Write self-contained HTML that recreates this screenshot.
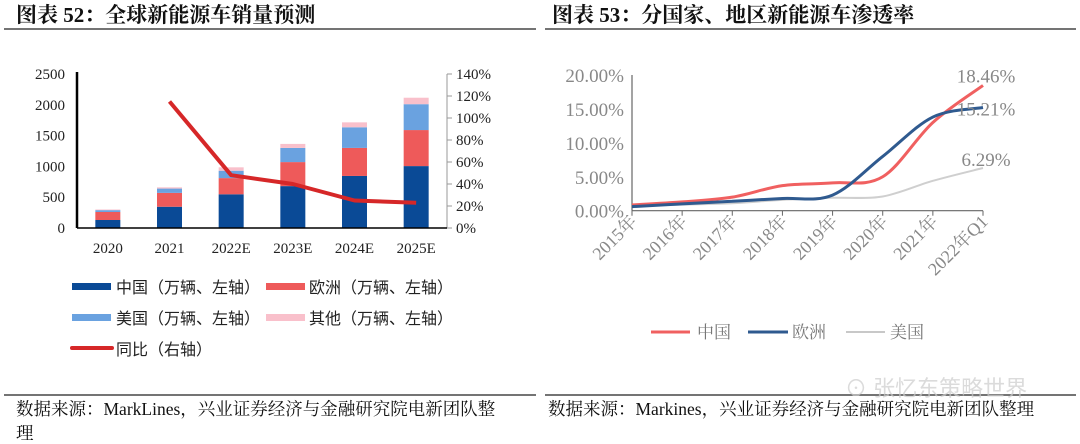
<!DOCTYPE html>
<html><head><meta charset="utf-8">
<style>
body{margin:0;background:#fff;}
svg{display:block;}
.t{font-family:"Liberation Serif","Noto Serif CJK SC",serif;}
.s{font-family:"Liberation Sans","Noto Sans CJK SC",sans-serif;}
</style></head><body>
<svg id="root" width="1080" height="444" viewBox="0 0 1080 444">
 <g>
  <text class="t" x="16" y="22" font-size="21" font-weight="bold" fill="#111">图表 52：全球新能源车销量预测</text>
  <line x1="4" y1="29" x2="536" y2="29" stroke="#222" stroke-width="1.2"/>
  <g id="leftChart"></g>
  <g>
   <rect x="72" y="283" width="39" height="7" fill="#0a4a96"/>
   <text class="s" x="116" y="293" font-size="16" fill="#222">中国（万辆、左轴）</text>
   <rect x="266" y="283" width="39" height="7" fill="#ee5a5a"/>
   <text class="s" x="309" y="293" font-size="16" fill="#222">欧洲（万辆、左轴）</text>
   <rect x="72" y="314" width="39" height="7" fill="#6aa2e0"/>
   <text class="s" x="116" y="324" font-size="16" fill="#222">美国（万辆、左轴）</text>
   <rect x="266" y="314" width="39" height="7" fill="#f9c0cb"/>
   <text class="s" x="309" y="324" font-size="16" fill="#222">其他（万辆、左轴）</text>
   <line x1="72" y1="348" x2="112" y2="348" stroke="#d62728" stroke-width="4" stroke-linecap="round"/>
   <text class="s" x="116" y="355" font-size="16" fill="#222">同比（右轴）</text>
  </g>
  <line x1="4" y1="395" x2="536" y2="395" stroke="#222" stroke-width="1.2"/>
  <text class="t" x="16" y="415" font-size="17.5" fill="#111">数据来源：MarkLines，兴业证券经济与金融研究院电新团队整</text>
  <text class="t" x="16" y="439" font-size="17.5" fill="#111">理</text>
 </g>
 <g>
  <text class="t" x="552" y="22" font-size="21" font-weight="bold" fill="#111">图表 53：分国家、地区新能源车渗透率</text>
  <line x1="545" y1="29" x2="1076" y2="29" stroke="#222" stroke-width="1.2"/>
  <g id="rightChart"></g>
  <g>
   <line x1="651" y1="332" x2="690" y2="332" stroke="#f06060" stroke-width="3"/>
   <text class="t" x="697" y="338" font-size="17" fill="#777">中国</text>
   <line x1="748" y1="332" x2="788" y2="332" stroke="#2f5a8f" stroke-width="3"/>
   <text class="t" x="792" y="338" font-size="17" fill="#777">欧洲</text>
   <line x1="846" y1="332" x2="885" y2="332" stroke="#c8c8c8" stroke-width="2"/>
   <text class="t" x="890" y="338" font-size="17" fill="#777">美国</text>
  </g>
  <line x1="545" y1="395" x2="1076" y2="395" stroke="#222" stroke-width="1.2"/>
  <text class="s" x="845" y="396" font-size="22" fill="#ccc" opacity="0.7">⊙ 张忆东策略世界</text>
  <text class="t" x="548" y="415" font-size="17.5" fill="#111">数据来源：Markines，兴业证券经济与金融研究院电新团队整理</text>
 </g>
</svg>
<script>
const NS="http://www.w3.org/2000/svg";
function mk(p,tag,attrs,txt){const e=document.createElementNS(NS,tag);for(const k in attrs)e.setAttribute(k,attrs[k]);if(txt!==undefined)e.textContent=txt;p.appendChild(e);return e;}

// ---- Left chart data ----
const years=["2020","2021","2022E","2023E","2024E","2025E"];
const china=[130,345,547,680,845,1005];
const europe=[130,225,263,390,455,585];
const usa=[30,70,120,230,335,420];
const other=[10,20,55,65,80,105];
const yoy=[null,115,48,40,25,23];
const leftTicks=[0,500,1000,1500,2000,2500];
const rightTicks=[0,20,40,60,80,100,120,140];

(function(){
 const g=document.getElementById('leftChart');
 const x0=77,x1=447,y0=228,y1=74;
 const yL=v=>y0-(v/2500)*(y0-y1);
 const yR=v=>y0-(v/140)*(y0-y1);
 const step=(x1-x0)/years.length;
 const xc=i=>x0+step*(i+0.5);
 const bw=25;
 leftTicks.forEach(t=>{
  const tx=mk(g,'text',{x:x0-12,y:yL(t)+5,'text-anchor':'end','font-size':15,fill:'#222','class':'t'},t);
  
  
 });
 rightTicks.forEach(t=>{
  const l=mk(g,'line',{x1:x1,x2:x1+5,y1:yR(t),y2:yR(t),stroke:'#999'});
  
  
  const tx=mk(g,'text',{x:x1+9,y:yR(t)+5,'font-size':15,fill:'#222','class':'t'},t+'%');
  
  
 });
 const series=[[china,'#0a4a96','bar-china'],[europe,'#ee5a5a','bar-europe'],[usa,'#6aa2e0','bar-us'],[other,'#f9c0cb','bar-other']];
 years.forEach((yr,i)=>{
  let base=0;
  series.forEach(([arr,c,n])=>{
   const v=arr[i];
   const r=mk(g,'rect',{x:xc(i)-bw/2,y:yL(base+v),width:bw,height:yL(base)-yL(base+v),fill:c});
   
   
   base+=v;
  });
  const tx=mk(g,'text',{x:xc(i),y:253,'text-anchor':'middle','font-size':15,fill:'#222','class':'t'},yr);
  
  
 });
 const la=mk(g,'line',{x1:x0,x2:x0,y1:y1-2,y2:y0,stroke:'#000','stroke-width':2.5});
 
 
 const ra=mk(g,'line',{x1:x1,x2:x1,y1:y1,y2:y0,stroke:'#999'});
 
 
 const xa=mk(g,'line',{x1:x0,x2:x1,y1:y0,y2:y0,stroke:'#000','stroke-width':1.5});
 
 
 let d='';
 yoy.forEach((v,i)=>{if(v===null)return;d+=(d?'L':'M')+xc(i)+','+yR(v);});
 const p=mk(g,'path',{d:d,fill:'none',stroke:'#d62728','stroke-width':4,'stroke-linejoin':'round'});
 
 
})();

// ---- Right chart data ----
const periods=["2015年","2016年","2017年","2018年","2019年","2020年","2021年","2022年Q1"];
const chinaRate=[0.85,1.3,2.0,3.7,4.1,5.0,13.0,18.46];
const europeRate=[0.6,1.0,1.4,1.8,2.3,8.0,13.8,15.21];
const usRate=[0.7,0.9,1.1,1.6,1.9,2.1,4.4,6.29];
const rateTicks=[0,5,10,15,20];

(function(){
 const g=document.getElementById('rightChart');
 const x0=632,x1=983,y0=210.7,y1=75;
 const y=v=>y0-(v/20)*(y0-y1);
 const step=(x1-x0)/(periods.length-1);
 const x=i=>x0+step*i;
 rateTicks.forEach(t=>{
  const tx=mk(g,'text',{x:x0-8,y:y(t)+7,'text-anchor':'end','font-size':19,fill:'#888','class':'t'},t.toFixed(2)+'%');
  
  
 });
 const ya=mk(g,'line',{x1:x0,x2:x0,y1:y1,y2:y0,stroke:'#666','stroke-width':1.2});
 
 
 const xa=mk(g,'line',{x1:x0,x2:x1,y1:y0,y2:y0,stroke:'#666','stroke-width':1.2});
 
 
 periods.forEach((p,i)=>{
  const tk=mk(g,'line',{x1:x(i),x2:x(i),y1:y0,y2:y0+5,stroke:'#666'});
  
  
  const tx=mk(g,'text',{x:x(i)+6,y:y0+12,'text-anchor':'end','font-size':18,fill:'#888','class':'t',transform:`rotate(-45 ${x(i)+6} ${y0+12})`},p);
  
  
 });
 function smooth(arr){
  const pts=arr.map((v,i)=>[x(i),y(v)]);
  let d='M'+pts[0][0]+','+pts[0][1];
  for(let i=0;i<pts.length-1;i++){
   const p0=pts[Math.max(0,i-1)],p1=pts[i],p2=pts[i+1],p3=pts[Math.min(pts.length-1,i+2)];
   const c1=[p1[0]+(p2[0]-p0[0])/6,p1[1]+(p2[1]-p0[1])/6];
   const c2=[p2[0]-(p3[0]-p1[0])/6,p2[1]-(p3[1]-p1[1])/6];
   d+=`C${c1[0]},${c1[1]} ${c2[0]},${c2[1]} ${p2[0]},${p2[1]}`;
  }
  return d;
 }
 const us=mk(g,'path',{d:smooth(usRate),fill:'none',stroke:'#cfcfcf','stroke-width':2});
 
 
 const cn=mk(g,'path',{d:smooth(chinaRate),fill:'none',stroke:'#f06060','stroke-width':3});
 
 
 const eu=mk(g,'path',{d:smooth(europeRate),fill:'none',stroke:'#2f5a8f','stroke-width':3});
 
 
 const last=periods.length-1;
 [[chinaRate,-3,'china-end-label'],[europeRate,8,'europe-end-label'],[usRate,-2,'us-end-label']].forEach(([arr,dy,n])=>{
  const tx=mk(g,'text',{x:x(last)+3,y:y(arr[last])+dy,'text-anchor':'middle','font-size':19,fill:'#888','class':'t'},arr[last].toFixed(2)+'%');
  
  
 });
})();
</script>
</body></html>
